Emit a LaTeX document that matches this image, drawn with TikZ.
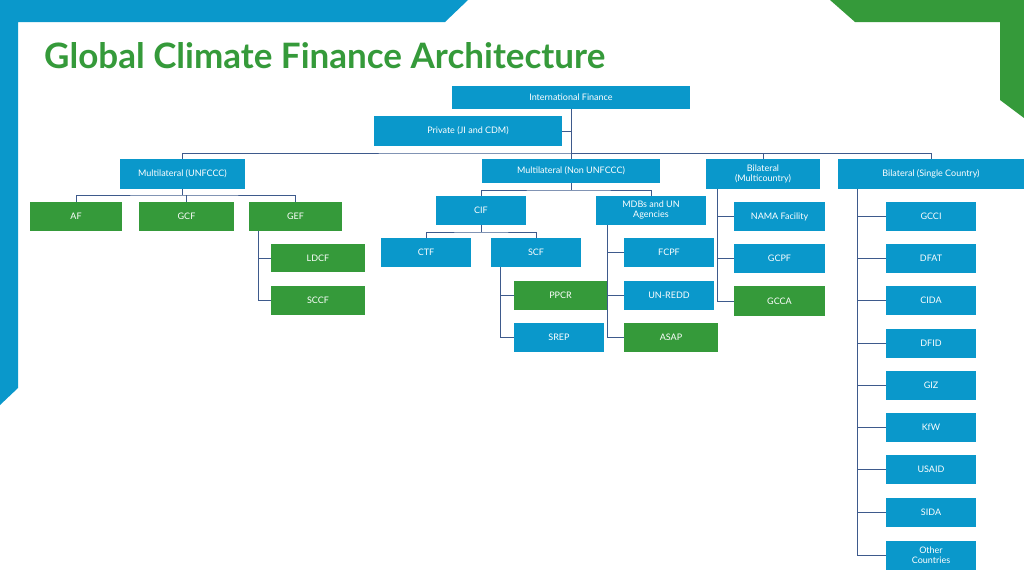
\documentclass[tikz,border=0pt]{standalone}
\usepackage{fontspec}
\setmainfont{Lato}
\usetikzlibrary{positioning}
\definecolor{fblue}{HTML}{0A98CB}
\definecolor{fgreen}{HTML}{359A3A}
\definecolor{fline}{HTML}{3E5A8C}
\tikzset{
  bbox/.style={fill=fblue,text=white,inner sep=0pt,align=center,font=\fontsize{9}{10}\selectfont,minimum width=90pt,minimum height=29pt},
  gbox/.style={bbox,fill=fgreen},
  link/.style={draw=fline,line width=0.9pt}
}
\begin{document}
\begin{tikzpicture}[x=1pt,y=-1pt]
\useasboundingbox (0,0) rectangle (1024,576);
%frame
\fill[fblue] (0,0) -- (468,0) -- (445,22) -- (18,22) -- (18,388) -- (0,405) -- cycle;
\fill[fgreen] (830,0) -- (1024,0) -- (1024,118) -- (1000,100) -- (1000,22) -- (855,22) -- cycle;
\node[anchor=base west,text=fgreen,font=\fontsize{35}{40}\selectfont\bfseries,inner sep=0pt] (title) at (44,68) {Global Climate Finance Architecture};
%top levels
\node[bbox,minimum width=238pt,minimum height=23pt] (intl) at (571,97.5) {International Finance};
\node[bbox,minimum width=188pt,minimum height=30pt] (priv) at (468,131) {Private (JI and CDM)};
\node[bbox,minimum width=125pt,minimum height=30pt] (mun) at (182.5,174) {Multilateral (UNFCCC)};
\node[bbox,minimum width=178pt,minimum height=24pt] (mnon) at (571,171) {Multilateral (Non UNFCCC)};
\node[bbox,minimum width=114pt,minimum height=30pt] (bmul) at (763,174) {Bilateral\\(Multicountry)};
\node[bbox,minimum width=186pt,minimum height=30pt] (bsin) at (931,174) {Bilateral (Single Country)};
\coordinate (hub) at (571,153);
\draw[link] (intl.south) -- (hub);
\draw[link] (priv.east) -- (priv.east -| intl.south);
\draw[link] (mun.north) |- (hub) -| (bsin.north);
\draw[link] (hub) -| (bmul.north);
\draw[link] (hub) -- (mnon.north);
%multilateral unfccc
\node[gbox,minimum width=92pt] (af) at (76,216.5) {AF};
\node[gbox,minimum width=95pt] (gcf) at (186.5,216.5) {GCF};
\node[gbox,minimum width=93pt] (gef) at (295.5,216.5) {GEF};
\node[gbox,minimum width=94pt,minimum height=28pt] (ldcf) at (318,258) {LDCF};
\node[gbox,minimum width=94pt] (sccf) at (318,300.5) {SCCF};
\coordinate (munj) at (182.5,195);
\draw[link] (mun.south) -- (munj);
\draw[link] (af.north) |- (munj) -| (gef.north);
\draw[link] (gcf.north) -- (gcf.north |- munj);
\coordinate (gefj) at (258,231);
\draw[link] (gefj) |- (ldcf.west);
\draw[link] (gefj) |- (sccf.west);
%multilateral non unfccc
\node[bbox] (cif) at (481,210.5) {CIF};
\node[bbox,minimum width=110pt] (mdb) at (651,210.5) {MDBs and UN\\Agencies};
\node[bbox] (ctf) at (426,252.5) {CTF};
\node[bbox] (scf) at (536,252.5) {SCF};
\node[bbox] (srep) at (559,337.5) {SREP};
\node[bbox] (fcpf) at (669,252.5) {FCPF};
\node[bbox] (unredd) at (669,295.5) {UN-REDD};
\node[gbox,minimum width=94pt] (asap) at (671,337.5) {ASAP};
\coordinate (mnonj) at (571,190);
\draw[link] (mnon.south) -- (mnonj);
\draw[link] (cif.north) |- (mnonj) -| (mdb.north);
\coordinate (cifj) at (481,232);
\draw[link] (cif.south) -- (cifj);
\draw[link] (ctf.north) |- (cifj) -| (scf.north);
\coordinate (scfj) at (500,267);
\draw[link] (scfj) |- (srep.west);
\coordinate (mdbj) at (607,225);
\draw[link] (mdbj) |- (fcpf.west);
\draw[link] (mdbj) |- (asap.west);
\node[gbox,minimum width=93pt] (ppcr) at (560.5,295.5) {PPCR};
\draw[link] (scfj |- ppcr.west) -- (ppcr.west);
\draw[link] (ppcr.east) -- (unredd.west);
%bilateral multicountry
\node[bbox,minimum width=91pt] (nama) at (779.5,216.5) {NAMA Facility};
\node[bbox,minimum width=91pt] (gcpf) at (779.5,258.5) {GCPF};
\node[gbox,minimum width=91pt,minimum height=30pt] (gcca) at (779.5,301) {GCCA};
\coordinate (bmulj) at (717,189);
\draw[link] (bmulj) |- (nama.west);
\draw[link] (bmulj) |- (gcpf.west);
\draw[link] (bmulj) |- (gcca.west);
%bilateral single country
\coordinate (bsinj) at (857,189);
\foreach \nm/\yy/\tx in {gcci/216.5/GCCI, dfat/258.5/DFAT, cida/300.5/CIDA, dfid/343.5/DFID, giz/385.5/GIZ, kfw/427.5/KfW, usaid/469.5/USAID, sida/512.5/SIDA, other/555/{Other\\Countries}}{
  \node[bbox] (\nm) at (931,\yy) {\tx};
  \draw[link] (bsinj) |- (\nm.west);
}
\end{tikzpicture}
\end{document}
